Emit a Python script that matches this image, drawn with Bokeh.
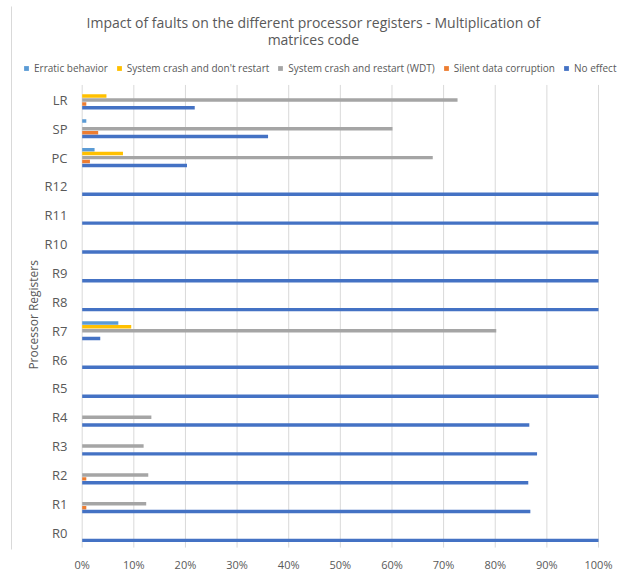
import math
from bokeh.plotting import figure
from bokeh.models import ColumnDataSource, Range1d, Legend, LegendItem, NumeralTickFormatter, FixedTicker
from bokeh.core.properties import value
from bokeh.embed import file_html
from bokeh.resources import INLINE

registers = ["R0", "R1", "R2", "R3", "R4", "R5", "R6", "R7", "R8", "R9", "R10", "R11", "R12", "PC", "SP", "LR"]
erratic = [0, 0, 0, 0, 0, 0, 0, 7.0, 0, 0, 0, 0, 0, 2.4, 0.8, 0]
crash_no_restart = [0, 0, 0, 0, 0, 0, 0, 9.5, 0, 0, 0, 0, 0, 7.9, 0, 4.7]
crash_wdt = [0, 12.4, 12.8, 11.9, 13.4, 0, 0, 80.2, 0, 0, 0, 0, 0, 67.9, 60.1, 72.7]
silent_corruption = [0, 0.8, 0.8, 0, 0, 0, 0, 0, 0, 0, 0, 0, 0, 1.5, 3.1, 0.8]
no_effect = [100, 86.8, 86.4, 88.1, 86.6, 100, 100, 3.5, 100, 100, 100, 100, 100, 20.3, 36.0, 21.8]
x_ticks = [0, 10, 20, 30, 40, 50, 60, 70, 80, 90, 100]
title_lines = ["Impact of faults on the different processor registers - Multiplication of", "matrices code"]
y_axis_title = "Processor Registers"

series = [
    ("Erratic behavior", erratic, "#5B9BD5", 0.27),
    ("System crash and don't restart", crash_no_restart, "#FFC000", 0.14),
    ("System crash and restart (WDT)", crash_wdt, "#A5A5A5", 0.0),
    ("Silent data corruption", silent_corruption, "#ED7D31", -0.137),
    ("No effect", no_effect, "#4472C4", -0.27),
]

FONT = "Open Sans"
GREY = "#595959"

# frame covers the whole canvas except the bottom axis strip
p = figure(width=625, height=574, output_backend="svg", toolbar_location=None,
           x_range=Range1d(-0.1582, 1.0523), y_range=Range1d(-0.586, 18.448),
           min_border_left=0, min_border_right=0, min_border_top=0, min_border_bottom=22)

pos = list(range(len(registers)))

# grid lines
tick_frac = [t / 100 for t in x_ticks]
p.segment(x0=tick_frac, x1=tick_frac, y0=[-0.52] * len(tick_frac), y1=[15.52] * len(tick_frac),
          line_color="#D9D9D9", line_width=1)
# chart border (left)
p.segment(x0=[-0.1369], x1=[-0.1369], y0=[-2.0], y1=[18.24], line_color="#D9D9D9", line_width=1)

items = []
for name, vals, color, off in series:
    src = ColumnDataSource(dict(y=[i + off for i in pos], right=[v / 100 for v in vals]))
    r = p.hbar(y="y", left=0, right="right", height=0.12, source=src,
               fill_color=color, line_color=None)
    items.append(LegendItem(label=name, renderers=[r]))

legend = Legend(items=items, orientation="horizontal", location=(23, 474),
                label_text_font=FONT, label_text_font_size="10px", label_text_color=GREY,
                glyph_width=6, glyph_height=6, label_standoff=5, spacing=8,
                border_line_color=None, background_fill_alpha=0, padding=0, margin=0,
                label_height=12)
p.add_layout(legend, "center")

# y tick labels
p.text(x=[-0.0285] * len(registers), y=pos, text=registers, text_align="right",
       text_baseline="middle", text_font=value(FONT), text_font_size="13px", text_color=GREY)
# y axis title
p.text(x=[-0.0943], y=[7.55], text=[y_axis_title], angle=math.pi / 2, text_align="center",
       text_baseline="middle", text_font=value(FONT), text_font_size="12px", text_color=GREY)
# chart title
p.text(x=[0.4477, 0.4477], y=[17.70, 17.10], text=title_lines, text_align="center",
       text_baseline="middle", text_font=value(FONT), text_font_size="14px", text_color=GREY)

p.yaxis.visible = False
p.xaxis.formatter = NumeralTickFormatter(format="0%")
p.xaxis.ticker = FixedTicker(ticks=tick_frac)
p.xaxis.axis_line_color = None
p.xaxis.major_tick_line_color = None
p.xaxis.minor_tick_line_color = None
p.xaxis.major_tick_out = 0
p.xaxis.major_tick_in = 0
p.xaxis.minor_tick_out = 0
p.xaxis.major_label_text_font = FONT
p.xaxis.major_label_text_color = GREY
p.xaxis.major_label_text_font_size = "11px"
p.xaxis.major_label_standoff = 7

p.grid.visible = False
p.outline_line_color = None
p.background_fill_color = "white"
p.border_fill_color = "white"

open("out.html", "w").write(file_html(p, INLINE))
